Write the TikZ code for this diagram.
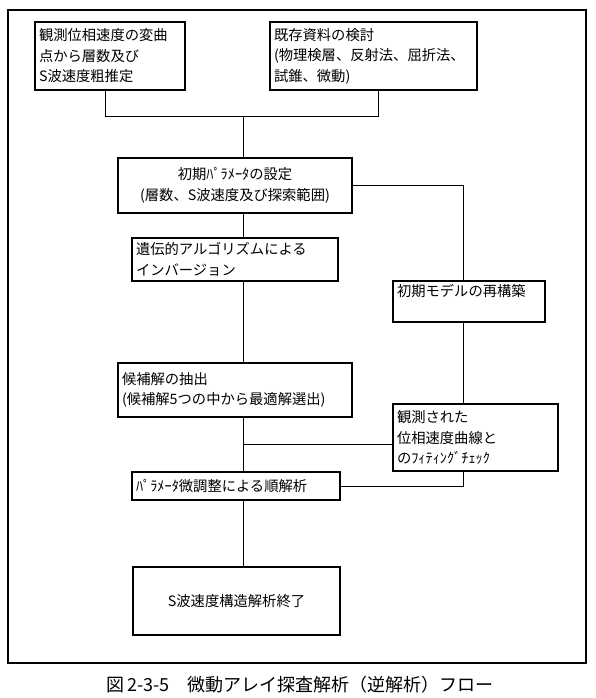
\documentclass[tikz,border=0pt]{standalone}
\usepackage{fontspec}
\setmainfont{Noto Sans CJK JP}
\usepackage{tikz}
\usetikzlibrary{positioning,calc}
\tikzset{
  fbox/.style={draw=black,line width=1.4pt,fill=white,inner xsep=3pt,inner ysep=2pt,font=\fontsize{14.3}{20.5}\selectfont},
  fleft/.style={fbox,align=left},
  fmid/.style={fbox,align=center},
  fline/.style={line width=1pt,draw=black}
}

\begin{document}
\begin{tikzpicture}[x=1pt,y=-1pt]
  \useasboundingbox (0,0) rectangle (595,698);
  \draw[line width=1.5pt] (8,10) rectangle (586,663);
  \coordinate (join) at (243,117);
  \coordinate (rx) at (463,0);
  \coordinate (fitpt) at (243,444);
  \node[fleft,minimum width=150pt,minimum height=68pt,text width=142pt] (obs) at (110,56) {観測位相速度の変曲\\点から層数及び\\S波速度粗推定};
  \node[fleft,minimum width=207pt,minimum height=68pt,text width=199pt] (exist) at (373.5,56) {既存資料の検討\\(物理検層、反射法、屈折法、\\試錐、微動)};
  \node[fmid,minimum width=234pt,minimum height=55pt,text width=226pt] (param) at (235,185.5) {初期ﾊﾟﾗﾒｰﾀの設定\\(層数、S波速度及び探索範囲)};
  \node[fleft,minimum width=206pt,minimum height=43pt,text width=198pt] (genetic) at (235,259.5) {遺伝的アルゴリズムによる\\インバージョン};
  \node[fleft,minimum width=234pt,minimum height=54pt,text width=226pt] (cand) at (235,390) {候補解の抽出\\(候補解5つの中から最適解選出)};
  \node[fleft,minimum width=208pt,minimum height=28pt,text width=200pt] (forward) at (236,486) {ﾊﾟﾗﾒｰﾀ微調整による順解析};
  \node[fmid,minimum width=207pt,minimum height=68pt,text width=199pt] (final) at (236.5,601) {S波速度構造解析終了};
  \node[fleft,minimum width=152pt,minimum height=41pt,text width=144pt,text depth=22pt] (model) at (469,301.5) {初期モデルの再構築};
  \node[fleft,minimum width=165pt,minimum height=67pt,text width=157pt] (check) at (475.5,437.5) {観測された\\位相速度曲線と\\のﾌｨﾃｨﾝｸﾞﾁｪｯｸ};
  \draw[fline] ([xshift=-5pt]obs.south) |- ([xshift=4.5pt]exist.south |- join) -- ([xshift=4.5pt]exist.south);
  \draw[fline] (join) -- (param.north -| join);
  \draw[fline] (param.south -| join) -- (genetic.north -| join);
  \draw[fline] (genetic.south -| join) -- (cand.north -| join);
  \draw[fline] (cand.south -| join) -- (forward.north -| join);
  \draw[fline] (forward.south -| join) -- (final.north -| join);
  \draw[fline] (check.west |- fitpt) -- (fitpt);
  \draw[fline] (param.east) -| (model.north -| rx);
  \draw[fline] (model.south -| rx) -- (check.north -| rx);
  \draw[fline] (check.south -| rx) |- (forward.east);
  \node[font=\fontsize{18}{20}\selectfont] (caption) at (300,685) {図\,2-3-5\quad 微動アレイ探査解析（逆解析）フロー};
\end{tikzpicture}
\end{document}
